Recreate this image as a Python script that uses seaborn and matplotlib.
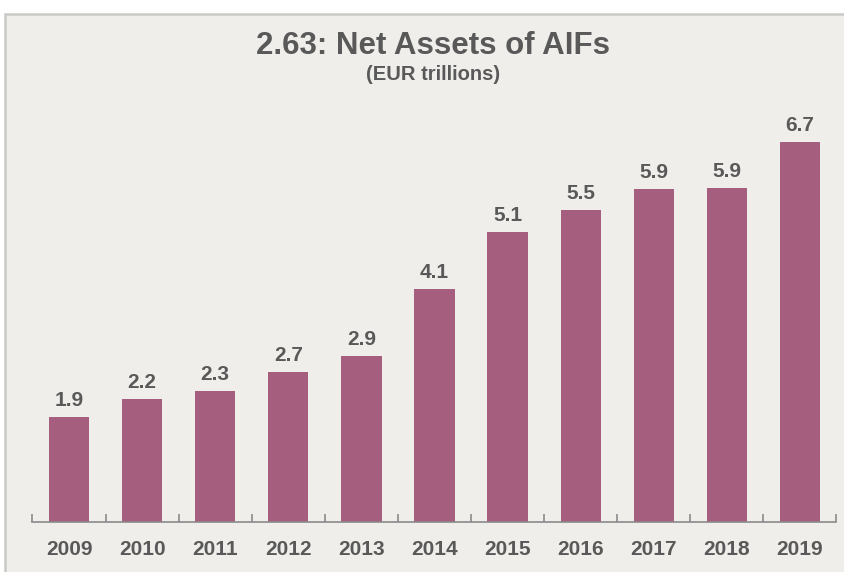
import matplotlib
matplotlib.use("Agg")
import matplotlib.pyplot as plt
import seaborn as sns
import pandas as pd
from matplotlib.patches import Rectangle

years = ["2009", "2010", "2011", "2012", "2013", "2014", "2015", "2016", "2017", "2018", "2019"]
values = [1.86, 2.17, 2.31, 2.65, 2.93, 4.11, 5.11, 5.5, 5.87, 5.89, 6.7]
labels = ["1.9", "2.2", "2.3", "2.7", "2.9", "4.1", "5.1", "5.5", "5.9", "5.9", "6.7"]
title = "2.63: Net Assets of AIFs"
subtitle = "(EUR trillions)"

sns.set_theme(style="white")
plt.rcParams['font.family'] = ['Liberation Sans', 'DejaVu Sans']

BAR = "#A65E7E"
TXT = "#595959"
BG = "#EFEEEA"

W, H = 844, 572
fig = plt.figure(figsize=(W / 100, H / 100), dpi=100, facecolor="white")
bg = fig.add_axes([0, 0, 1, 1], zorder=-10)
bg.set_axis_off()
bg.set_xlim(0, W)
bg.set_ylim(H, 0)
bg.add_patch(Rectangle((5, 14), W, H, facecolor=BG, edgecolor="#C9C9C5", linewidth=1.8))

ax = fig.add_axes([32.5 / W, 50 / H, (836.5 - 32.5) / W, (522 - 100) / H])
ax.set_facecolor("none")
df = pd.DataFrame({"year": years, "value": values})
sns.barplot(data=df, x="year", y="value", color=BAR, saturation=1, width=0.55, ax=ax,
            edgecolor="none")
ax.set_ylim(0, 422 / 56.7)
ax.set_xlim(-0.5, len(years) - 0.5)
ax.set_xlabel("")
ax.set_ylabel("")
ax.set_yticks([])
for s in ["top", "right", "left"]:
    ax.spines[s].set_visible(False)
ax.spines["bottom"].set_color("#8A8A8A")
ax.spines["bottom"].set_linewidth(1.2)

ax.set_xticks([i - 0.5 for i in range(len(years) + 1)])
ax.set_xticklabels([])
ax.tick_params(axis="x", which="major", bottom=True, direction="in", length=6, width=1.2,
               color="#8A8A8A")
for i, y in enumerate(years):
    ax.text(i, -0.31, y, ha="center", va="top", fontsize=15, fontweight="bold", color=TXT)

for i, (v, lab) in enumerate(zip(values, labels)):
    ax.annotate(lab, (i, v), xytext=(0, 5), textcoords="offset points", ha="center", va="bottom",
                fontsize=15, fontweight="bold", color=TXT)

fig.text(433 / W, 1 - 46 / H, title, ha="center", va="center", fontsize=22.5, fontweight="bold",
         color=TXT)
fig.text(433 / W, 1 - 75 / H, subtitle, ha="center", va="center", fontsize=14.5, fontweight="bold",
         color=TXT)

fig.savefig("out.png", dpi=100, facecolor="white")
